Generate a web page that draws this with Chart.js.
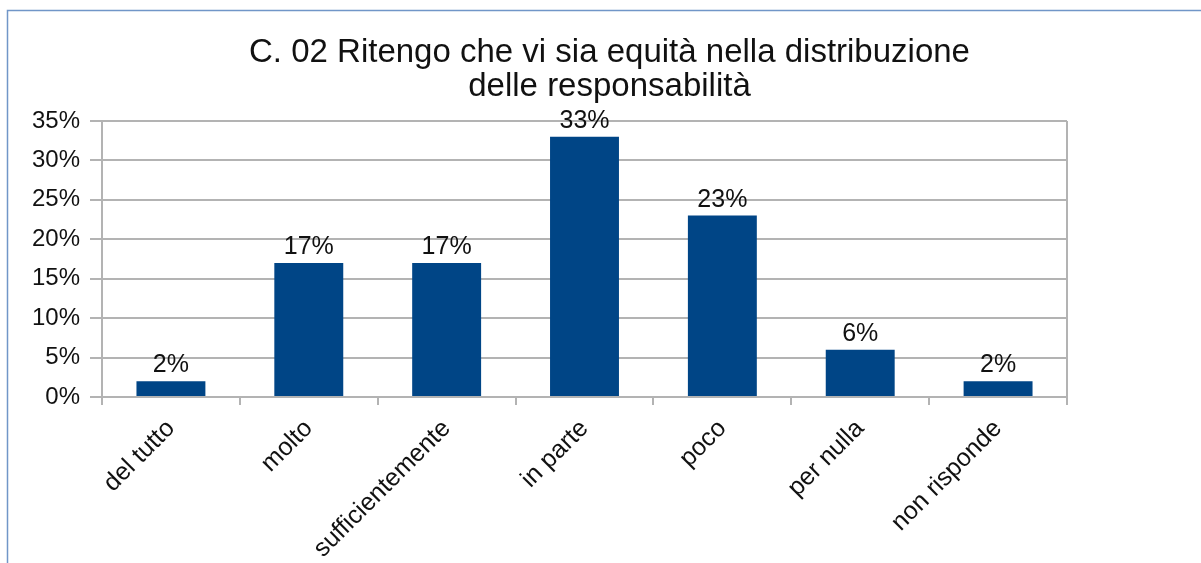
<!DOCTYPE html>
<html>
<head>
<meta charset="utf-8">
<script src="https://cdn.jsdelivr.net/npm/chart.js@4.4.1/dist/chart.umd.min.js"></script>
<style>
  html, body { margin: 0; padding: 0; background: #fff; }
  #wrap { width: 1201px; height: 563px; }
</style>
</head>
<body>
<div id="wrap"><canvas id="equityChart" width="1201" height="563"></canvas></div>
<script>
const categories = ['del tutto', 'molto', 'sufficientemente', 'in parte', 'poco', 'per nulla', 'non risponde'];
const percentages = [2, 17, 17, 33, 23, 6, 2];
const yTicks = [0, 5, 10, 15, 20, 25, 30, 35];
const titleLines = ['C. 02 Ritengo che vi sia equità nella distribuzione', 'delle responsabilità'];

const gridGrey = '#b3b3b3';
const fontFamily = '"Liberation Sans", Arial, sans-serif';

// frame around the chart (left + top edges visible)
const framePlugin = {
  id: 'frame',
  beforeDraw(chart) {
    const ctx = chart.ctx;
    ctx.save();
    ctx.strokeStyle = '#7196c8';
    ctx.lineWidth = 1.5;
    ctx.strokeRect(7.5, 10.5, 1300, 700);
    ctx.restore();
  }
};

// value labels above the bars
const valueLabels = {
  id: 'valueLabels',
  afterDatasetsDraw(chart) {
    const ctx = chart.ctx;
    const meta = chart.getDatasetMeta(0);
    ctx.save();
    ctx.font = '25px ' + fontFamily;
    ctx.fillStyle = '#111';
    ctx.textAlign = 'center';
    ctx.textBaseline = 'alphabetic';
    meta.data.forEach(function (bar, i) {
      ctx.fillText(percentages[i] + '%', bar.x, bar.y - 9);
    });
    ctx.restore();
  }
};

const ctx = document.getElementById('equityChart').getContext('2d');

new Chart(ctx, {
  type: 'bar',
  data: {
    labels: categories,
    datasets: [{
      data: percentages,
      backgroundColor: '#004586',
      barPercentage: 0.5,
      categoryPercentage: 1
    }]
  },
  options: {
    responsive: false,
    animation: false,
    events: [],
    layout: { padding: { left: 18, right: 0, top: 10, bottom: 0 } },
    plugins: {
      legend: { display: false },
      tooltip: { enabled: false },
      title: {
        display: true,
        text: titleLines,
        color: '#111',
        font: { family: fontFamily, size: 33, weight: 'normal', lineHeight: 1.03 },
        padding: { top: 26, bottom: 17 }
      }
    },
    scales: {
      x: {
        grid: {
          offset: true,
          color: function (c) { return c.type === 'scale' ? gridGrey : 'rgba(0,0,0,0)'; },
          tickColor: gridGrey,
          tickLength: 8,
          lineWidth: 2
        },
        border: { color: gridGrey, width: 2 },
        ticks: {
          color: '#111',
          font: { family: fontFamily, size: 25 },
          minRotation: 45,
          maxRotation: 45,
          autoSkip: false,
          padding: 9
        },
        afterFit: function (scale) { scale.height = 166; }
      },
      y: {
        min: 0,
        max: 35,
        afterBuildTicks: function (scale) {
          scale.ticks = yTicks.map(function (v) { return { value: v }; });
        },
        grid: { color: gridGrey, tickLength: 12, lineWidth: 2 },
        border: { color: gridGrey, width: 2 },
        ticks: {
          color: '#111',
          font: { family: fontFamily, size: 24 },
          padding: 10,
          callback: function (v) { return v + '%'; }
        },
        afterFit: function (scale) { scale.width = 84; }
      },
      spacer: {
        type: 'linear',
        position: 'right',
        grid: { display: false },
        border: { display: false },
        ticks: { display: false },
        afterFit: function (scale) { scale.width = 134; }
      }
    }
  },
  plugins: [framePlugin, valueLabels]
});
</script>
</body>
</html>
